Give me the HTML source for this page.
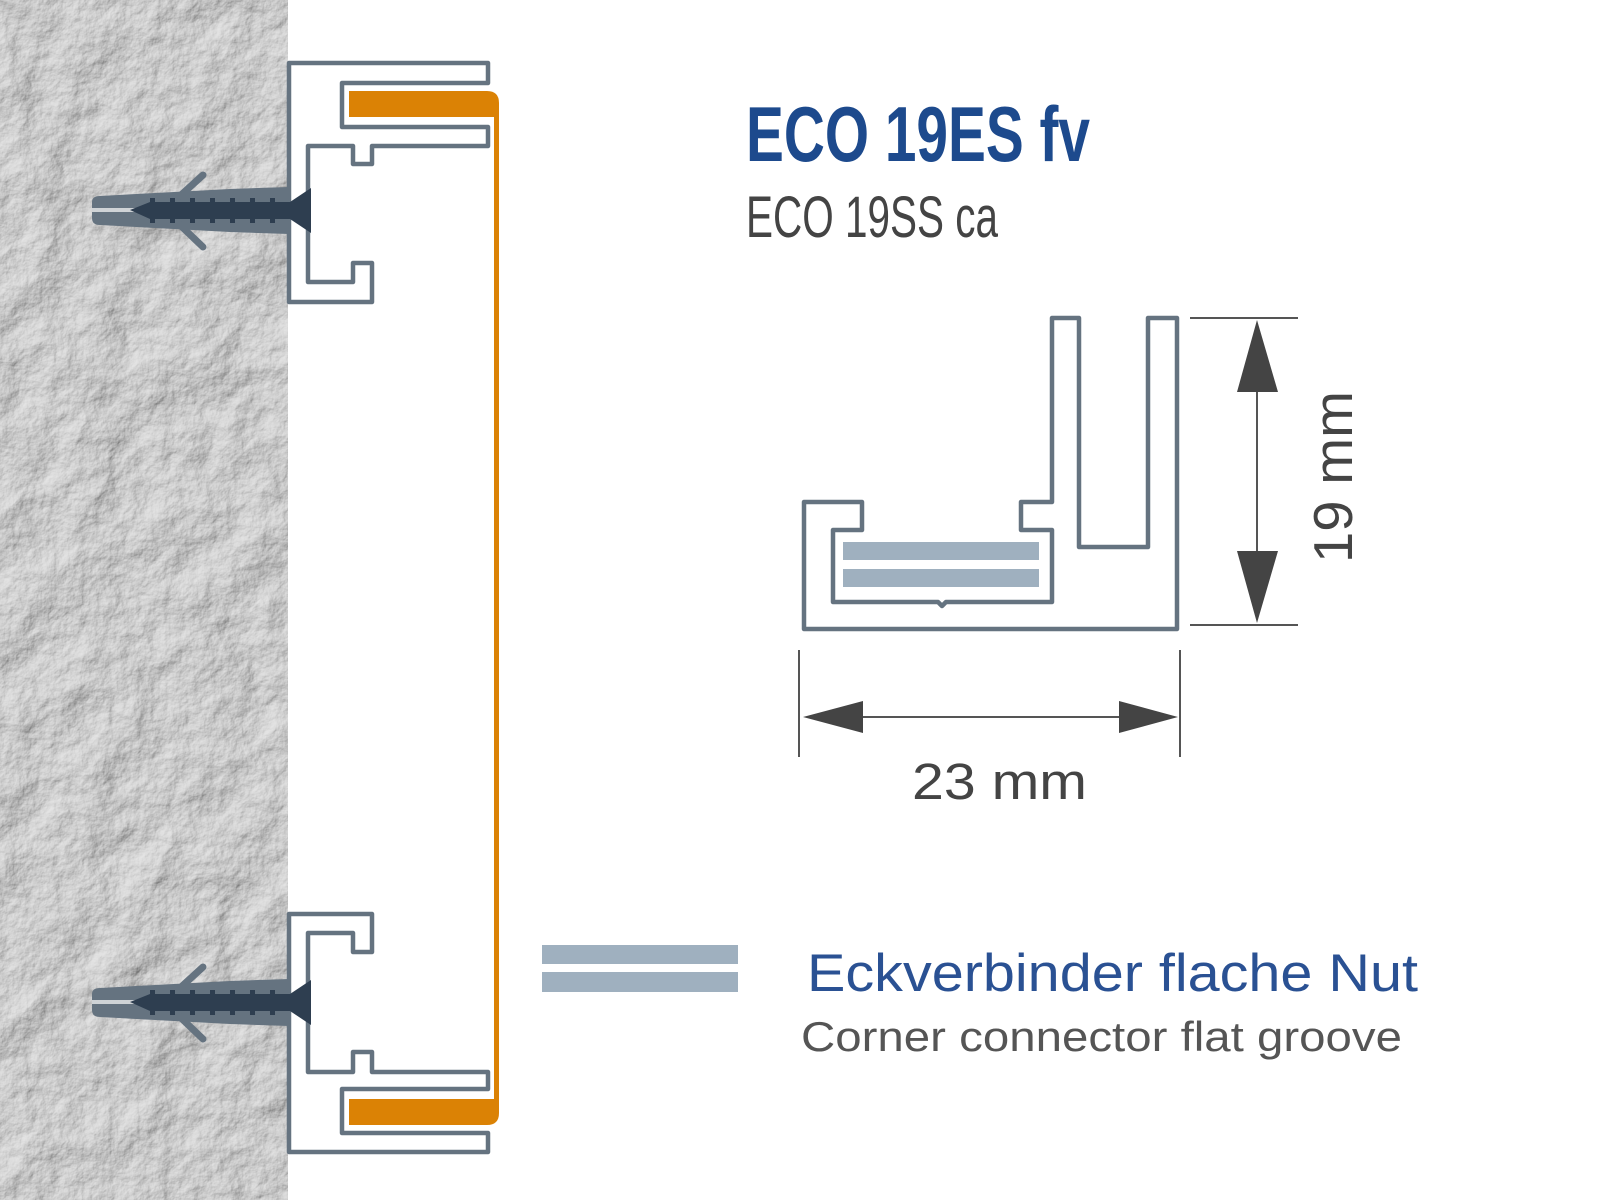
<!DOCTYPE html>
<html><head><meta charset="utf-8"><style>
html,body{margin:0;padding:0;background:#fff;width:1600px;height:1200px;overflow:hidden}
svg{display:block}
</style></head><body>
<svg width="1600" height="1200" viewBox="0 0 1600 1200" xmlns="http://www.w3.org/2000/svg">
<defs>
<filter id="wall" x="0" y="0" width="100%" height="100%">
<feTurbulence type="fractalNoise" baseFrequency="0.018" numOctaves="6" seed="7" result="n"/>
<feDiffuseLighting in="n" surfaceScale="7" lighting-color="#e4e4e4" diffuseConstant="1.0" result="l">
<feDistantLight azimuth="225" elevation="50"/>
</feDiffuseLighting>
<feComposite in="l" in2="SourceGraphic" operator="in"/>
</filter>
</defs>
<rect x="0" y="0" width="288" height="1200" fill="#ccc" filter="url(#wall)"/>

<!-- top profile -->
<path d="M289 63 H488 V83 H342 V127 H488 V146 H372 V164 H353 V146 H308 V282 H353 V263 H372 V302 H289 Z" fill="none" stroke="#657380" stroke-width="4.5" stroke-linejoin="round"/>
<!-- bottom profile -->
<path d="M289 914 H372 V952 H353 V933 H308 V1072 H353 V1052 H372 V1072 H488 V1089 H342 V1133 H488 V1152 H289 Z" fill="none" stroke="#657380" stroke-width="4.5" stroke-linejoin="round"/>

<!-- orange panel -->
<path d="M349 91 H487 Q499 91 499 103 V1113 Q499 1125 487 1125 H349 V1099 H494 V117 H349 Z" fill="#db8205"/>

<!-- dowels -->
<g id="dw">
<path d="M92 202 Q92 196 100 196 L230 189 L289 187 V234 L230 232 L100 225 Q92 225 92 218 Z" fill="#657380"/>
<path d="M180 196 L203 175 M180 225 L203 247" stroke="#657380" stroke-width="7" stroke-linecap="round"/>
<rect x="92" y="208" width="50" height="4" fill="#cfd3d6"/>
<path d="M130 210 L150 202 H290 L311 188 V233 L290 219 H150 Z" fill="#2e3e50"/>
<g fill="#2e3e50"><rect x="150" y="198" width="5" height="25"/><rect x="170" y="198" width="5" height="25"/><rect x="190" y="198" width="5" height="25"/><rect x="210" y="198" width="5" height="25"/><rect x="230" y="198" width="5" height="25"/><rect x="250" y="198" width="5" height="25"/><rect x="270" y="198" width="5" height="25"/></g>
</g>
<use href="#dw" transform="translate(0,792)"/>

<!-- titles -->
<text x="746" y="161" font-family="Liberation Sans Narrow, Liberation Sans, sans-serif" font-weight="bold" font-size="78" fill="#1d4a8d" textLength="344" lengthAdjust="spacingAndGlyphs">ECO 19ES fv</text>
<text x="746" y="237" font-family="Liberation Sans Narrow, Liberation Sans, sans-serif" font-size="58" fill="#444" textLength="252" lengthAdjust="spacingAndGlyphs">ECO 19SS ca</text>

<!-- right profile -->
<path d="M804 629 V502 H862 V530 H833 V602 H938 L942 606 L946 602 H1052 V530 H1021 V502 H1052 V318 H1079 V547 H1148 V318 H1177 V629 Z" fill="none" stroke="#657380" stroke-width="4.5" stroke-linejoin="round"/>
<rect x="843" y="542" width="196" height="18" fill="#9fb0bf"/>
<rect x="843" y="569" width="196" height="18" fill="#9fb0bf"/>

<!-- vertical dimension -->
<g stroke="#555" stroke-width="2"><line x1="1190" y1="318" x2="1298" y2="318"/><line x1="1190" y1="625" x2="1298" y2="625"/><line x1="1257" y1="380" x2="1257" y2="560"/></g>
<path d="M1257 320 L1278 392 H1237 Z M1257 623 L1278 551 H1237 Z" fill="#444"/>
<text transform="translate(1352,563) rotate(-90)" font-family="Liberation Sans, sans-serif" font-size="55" fill="#444" textLength="172" lengthAdjust="spacingAndGlyphs">19 mm</text>

<!-- horizontal dimension -->
<g stroke="#555" stroke-width="2"><line x1="799" y1="650" x2="799" y2="757"/><line x1="1180" y1="650" x2="1180" y2="757"/><line x1="860" y1="717" x2="1122" y2="717"/></g>
<path d="M803 717 L863 701 V733 Z M1178 717 L1119 701 V733 Z" fill="#444"/>
<text x="912" y="799" font-family="Liberation Sans, sans-serif" font-size="51" fill="#444" textLength="175" lengthAdjust="spacingAndGlyphs">23 mm</text>

<!-- legend -->
<rect x="542" y="945" width="196" height="19" fill="#9fb0bf"/>
<rect x="542" y="972" width="196" height="20" fill="#9fb0bf"/>
<text x="807" y="991" font-family="Liberation Sans, sans-serif" font-size="53" fill="#2a5193" textLength="611" lengthAdjust="spacingAndGlyphs">Eckverbinder flache Nut</text>
<text x="801" y="1051" font-family="Liberation Sans, sans-serif" font-size="42" fill="#555" textLength="601" lengthAdjust="spacingAndGlyphs">Corner connector flat groove</text>
</svg>
</body></html>
